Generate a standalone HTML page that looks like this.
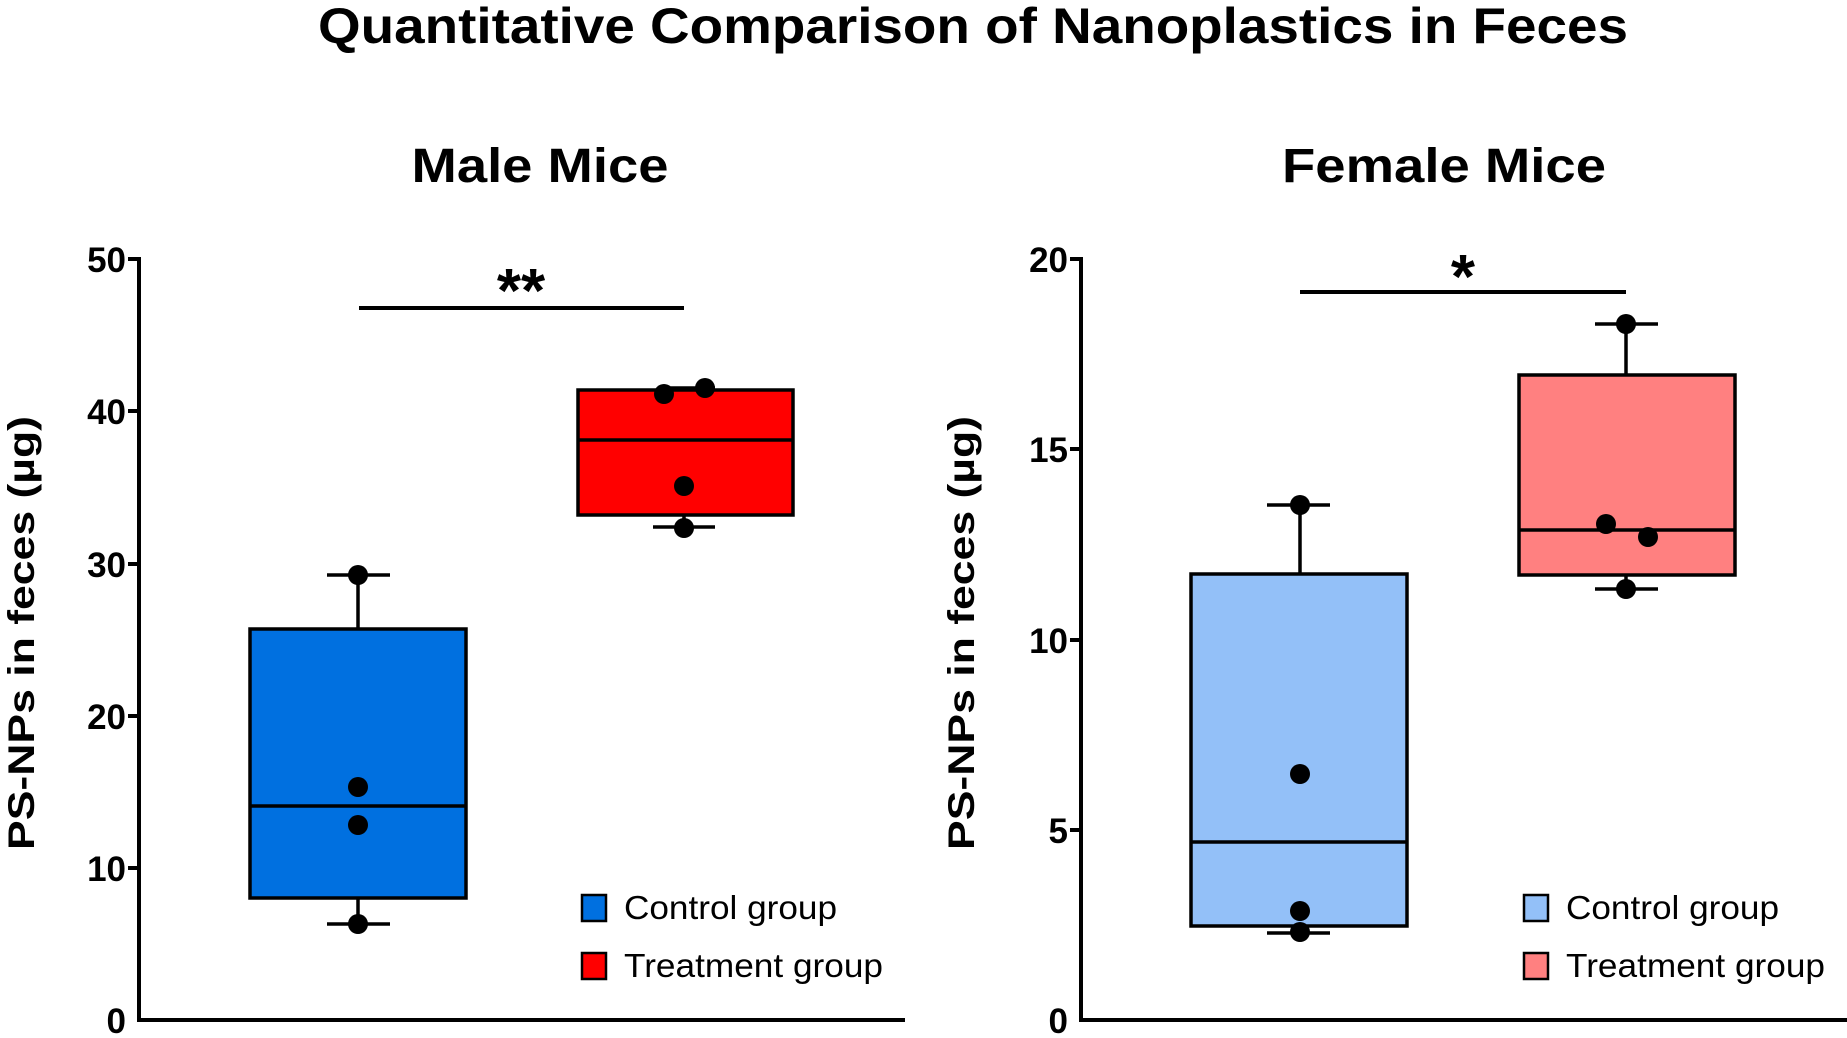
<!DOCTYPE html>
<html><head><meta charset="utf-8"><style>html,body{margin:0;padding:0;background:#fff}svg{display:block}</style></head>
<body>
<svg width="1847" height="1038" viewBox="0 0 1847 1038" xmlns="http://www.w3.org/2000/svg" font-family="'Liberation Sans', sans-serif">
<rect width="1847" height="1038" fill="#fff"/>
<text x="973" y="43" font-size="50" font-weight="bold" text-anchor="middle" textLength="1310" lengthAdjust="spacingAndGlyphs">Quantitative Comparison of Nanoplastics in Feces</text>
<text x="540" y="182" font-size="48" font-weight="bold" text-anchor="middle" textLength="257" lengthAdjust="spacingAndGlyphs">Male Mice</text>
<text x="1444" y="182" font-size="48" font-weight="bold" text-anchor="middle" textLength="324" lengthAdjust="spacingAndGlyphs">Female Mice</text>

<!-- LEFT PANEL -->
<g stroke="#000" stroke-width="4" fill="none">
<line x1="139" y1="257" x2="139" y2="1022"/>
<line x1="137" y1="1020" x2="905" y2="1020"/>
<line x1="128" y1="259" x2="139" y2="259"/>
<line x1="128" y1="411" x2="139" y2="411"/>
<line x1="128" y1="564" x2="139" y2="564"/>
<line x1="128" y1="716" x2="139" y2="716"/>
<line x1="128" y1="868" x2="139" y2="868"/>
</g>
<g font-size="35" font-weight="bold" text-anchor="end">
<text x="126" y="272">50</text><text x="126" y="424">40</text><text x="126" y="577">30</text>
<text x="126" y="729">20</text><text x="126" y="881">10</text><text x="126" y="1033">0</text>
</g>
<text transform="translate(34,633) rotate(-90)" font-size="37" font-weight="bold" text-anchor="middle" textLength="434" lengthAdjust="spacingAndGlyphs">PS-NPs in feces (µg)</text>
<g stroke="#000" stroke-width="3.5">
<line x1="358" y1="575" x2="358" y2="629"/><line x1="327" y1="575" x2="390" y2="575"/>
<line x1="358" y1="898" x2="358" y2="924"/><line x1="327" y1="924" x2="390" y2="924"/>
<rect x="250" y="629" width="216" height="269" fill="#0070e0"/>
<line x1="250" y1="806" x2="466" y2="806"/>
<line x1="664" y1="388" x2="715" y2="388"/>
<line x1="684" y1="515" x2="684" y2="527"/><line x1="653" y1="527" x2="715" y2="527"/>
<rect x="578" y="390" width="215" height="125" fill="#ff0000"/>
<line x1="578" y1="440" x2="793" y2="440"/>
<line x1="359" y1="308" x2="684" y2="308" stroke-width="4"/>
</g>
<g fill="#000">
<circle cx="358" cy="575" r="10"/><circle cx="358" cy="787" r="10"/><circle cx="358" cy="825" r="10"/><circle cx="358" cy="924" r="10"/>
<circle cx="664" cy="394" r="10"/><circle cx="705" cy="388" r="10"/><circle cx="684" cy="486" r="10"/><circle cx="684" cy="528" r="10"/>
</g>
<text x="521" y="312" font-size="62" font-weight="bold" text-anchor="middle">**</text>
<rect x="582" y="895" width="24" height="26" fill="#0070e0" stroke="#000" stroke-width="2.5"/>
<rect x="582" y="953" width="24" height="26" fill="#ff0000" stroke="#000" stroke-width="2.5"/>
<text x="624" y="919" font-size="33" textLength="213" lengthAdjust="spacingAndGlyphs">Control group</text>
<text x="624" y="977" font-size="33" textLength="259" lengthAdjust="spacingAndGlyphs">Treatment group</text>

<!-- RIGHT PANEL -->
<g stroke="#000" stroke-width="4" fill="none">
<line x1="1081" y1="257" x2="1081" y2="1022"/>
<line x1="1079" y1="1020" x2="1847" y2="1020"/>
<line x1="1070" y1="259" x2="1081" y2="259"/>
<line x1="1070" y1="449" x2="1081" y2="449"/>
<line x1="1070" y1="640" x2="1081" y2="640"/>
<line x1="1070" y1="830" x2="1081" y2="830"/>
</g>
<g font-size="35" font-weight="bold" text-anchor="end">
<text x="1068" y="272">20</text><text x="1068" y="462">15</text><text x="1068" y="653">10</text>
<text x="1068" y="843">5</text><text x="1068" y="1033">0</text>
</g>
<text transform="translate(974,633) rotate(-90)" font-size="37" font-weight="bold" text-anchor="middle" textLength="434" lengthAdjust="spacingAndGlyphs">PS-NPs in feces (µg)</text>
<g stroke="#000" stroke-width="3.5">
<line x1="1300" y1="505" x2="1300" y2="574"/><line x1="1267" y1="505" x2="1330" y2="505"/>
<line x1="1300" y1="926" x2="1300" y2="933"/><line x1="1267" y1="933" x2="1330" y2="933"/>
<rect x="1191" y="574" width="216" height="352" fill="#93c0f8"/>
<line x1="1191" y1="842" x2="1407" y2="842"/>
<line x1="1626" y1="324" x2="1626" y2="375"/><line x1="1595" y1="324" x2="1658" y2="324"/>
<line x1="1626" y1="575" x2="1626" y2="589"/><line x1="1595" y1="589" x2="1658" y2="589"/>
<rect x="1519" y="375" width="216" height="200" fill="#ff8080"/>
<line x1="1519" y1="530" x2="1735" y2="530"/>
<line x1="1300" y1="292" x2="1626" y2="292" stroke-width="4"/>
</g>
<g fill="#000">
<circle cx="1300" cy="505" r="10"/><circle cx="1300" cy="774" r="10"/><circle cx="1300" cy="911" r="10"/><circle cx="1300" cy="932" r="10"/>
<circle cx="1626" cy="324" r="10"/><circle cx="1606" cy="524" r="10"/><circle cx="1648" cy="537" r="10"/><circle cx="1626" cy="589" r="10"/>
</g>
<text x="1463" y="298" font-size="62" font-weight="bold" text-anchor="middle">*</text>
<rect x="1524" y="895" width="24" height="26" fill="#93c0f8" stroke="#000" stroke-width="2.5"/>
<rect x="1524" y="953" width="24" height="26" fill="#ff8080" stroke="#000" stroke-width="2.5"/>
<text x="1566" y="919" font-size="33" textLength="213" lengthAdjust="spacingAndGlyphs">Control group</text>
<text x="1566" y="977" font-size="33" textLength="259" lengthAdjust="spacingAndGlyphs">Treatment group</text>
</svg>
</body></html>
